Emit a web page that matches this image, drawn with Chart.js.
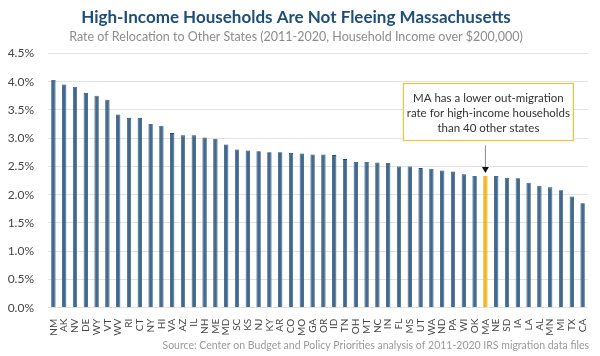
<!DOCTYPE html>
<html><head><meta charset="utf-8">
<script src="https://cdn.jsdelivr.net/npm/chart.js@4"></script>
<style>html,body{margin:0;padding:0;background:#fff}#wrap{width:600px;height:356px}</style>
</head><body><div id="wrap"><canvas id="c" width="600" height="356"></canvas></div>
<script>
const states = ["NM","AK","NV","DE","WY","VT","WV","RI","CT","NY","HI","VA","AZ","IL","NH","ME","MD","SC","KS","NJ","KY","AR","CO","MO","GA","OR","ID","TN","OH","MT","NC","IN","FL","MS","UT","WA","ND","PA","WI","OK","MA","NE","SD","IA","LA","AL","MN","MI","TX","CA"];
const rates = [4.03,3.95,3.91,3.80,3.75,3.68,3.42,3.36,3.36,3.25,3.22,3.09,3.05,3.05,3.01,2.99,2.89,2.80,2.78,2.77,2.75,2.75,2.74,2.73,2.71,2.71,2.70,2.63,2.58,2.58,2.57,2.56,2.50,2.50,2.47,2.46,2.43,2.41,2.36,2.33,2.33,2.33,2.30,2.29,2.21,2.16,2.13,2.08,1.97,1.85];
const yTicks = [0,0.5,1.0,1.5,2.0,2.5,3.0,3.5,4.0,4.5];
const highlight = "MA";
const noteLines = ["MA has a lower out-migration","rate for high-income households","than 40 other states"];
const titleText = "High-Income Households Are Not Fleeing Massachusetts";
const subtitleText = "Rate of Relocation to Other States (2011-2020, Household Income over $200,000)";
const sourceText = "Source: Center on Budget and Policy Priorities analysis of 2011-2020 IRS migration data files";

const blue = "#41698f", blueBorder = "#1f4a72", gold = "#f3b61f";
const FONT = "Lato, 'Open Sans', sans-serif";

const annotation = {
  id: 'annot',
  afterDraw(chart) {
    const ctx = chart.ctx, xs = chart.scales.x, ys = chart.scales.y;
    const i = states.indexOf(highlight);
    const x = xs.getPixelForValue(i);
    const barTop = ys.getPixelForValue(rates[i]);
    const bw = 170, bh = 57;
    const bx = x - bw/2 + 3, by = 83.5;
    ctx.save();
    ctx.fillStyle = "#fff";
    ctx.fillRect(bx, by, bw, bh);
    ctx.strokeStyle = "#f0c43a"; ctx.lineWidth = 1.2;
    ctx.strokeRect(bx, by, bw, bh);
    ctx.fillStyle = "#333"; ctx.font = "11.5px " + FONT;
    ctx.textAlign = "center"; ctx.textBaseline = "middle";
    noteLines.forEach((t, k) => ctx.fillText(t, bx + bw/2, by + 14.5 + k*15));
    ctx.strokeStyle = "#8a8a8a"; ctx.lineWidth = 1;
    ctx.beginPath(); ctx.moveTo(x, by + bh + 5); ctx.lineTo(x, barTop - 8); ctx.stroke();
    ctx.fillStyle = "#111";
    ctx.beginPath(); ctx.moveTo(x - 3.5, barTop - 9); ctx.lineTo(x + 3.5, barTop - 9); ctx.lineTo(x, barTop - 3); ctx.closePath(); ctx.fill();
    ctx.fillStyle = "#9a9a9a"; ctx.font = "10.5px " + FONT;
    ctx.textAlign = "right"; ctx.textBaseline = "middle";
    ctx.fillText(sourceText, 589, 346);
    ctx.restore();
  }
};

new Chart(document.getElementById('c'), {
  type: 'bar',
  data: {
    labels: states,
    datasets: [{
      data: rates,
      backgroundColor: states.map(s => s === highlight ? gold : blue),
      borderColor: states.map(s => s === highlight ? "#e8a800" : blueBorder),
      borderWidth: 0.8,
      barPercentage: 0.4,
      categoryPercentage: 1.0
    }]
  },
  options: {
    responsive: false,
    animation: false,
    layout: { padding: { left: 4, right: 12, top: 0, bottom: 17 } },
    plugins: {
      legend: { display: false },
      tooltip: { enabled: false },
      title: { display: true, text: titleText, color: "#1f4e79", font: { family: FONT, size: 17, weight: 'bold' }, padding: { top: 7, bottom: 2 } },
      subtitle: { display: true, text: subtitleText, color: "#8c8c8c", font: { family: FONT, size: 12.5 }, padding: { top: 0, bottom: 9 } }
    },
    scales: {
      x: {
        grid: { display: false },
        border: { display: false },
        ticks: { color: "#444", font: { family: FONT, size: 10 }, minRotation: 90, maxRotation: 90, autoSkip: false, padding: 3 }
      },
      y: {
        min: 0, max: 4.5,
        afterBuildTicks(scale) { scale.ticks = yTicks.map(v => ({ value: v })); },
        afterFit(scale) { scale.width = 44; },
        grid: { color: "#e3e3e3", drawTicks: false, lineWidth: 1 },
        border: { display: false },
        ticks: { color: "#444", font: { family: FONT, size: 12 }, padding: 14, callback: v => v.toFixed(1) + "%" }
      }
    }
  },
  plugins: [annotation]
});
</script></body></html>
